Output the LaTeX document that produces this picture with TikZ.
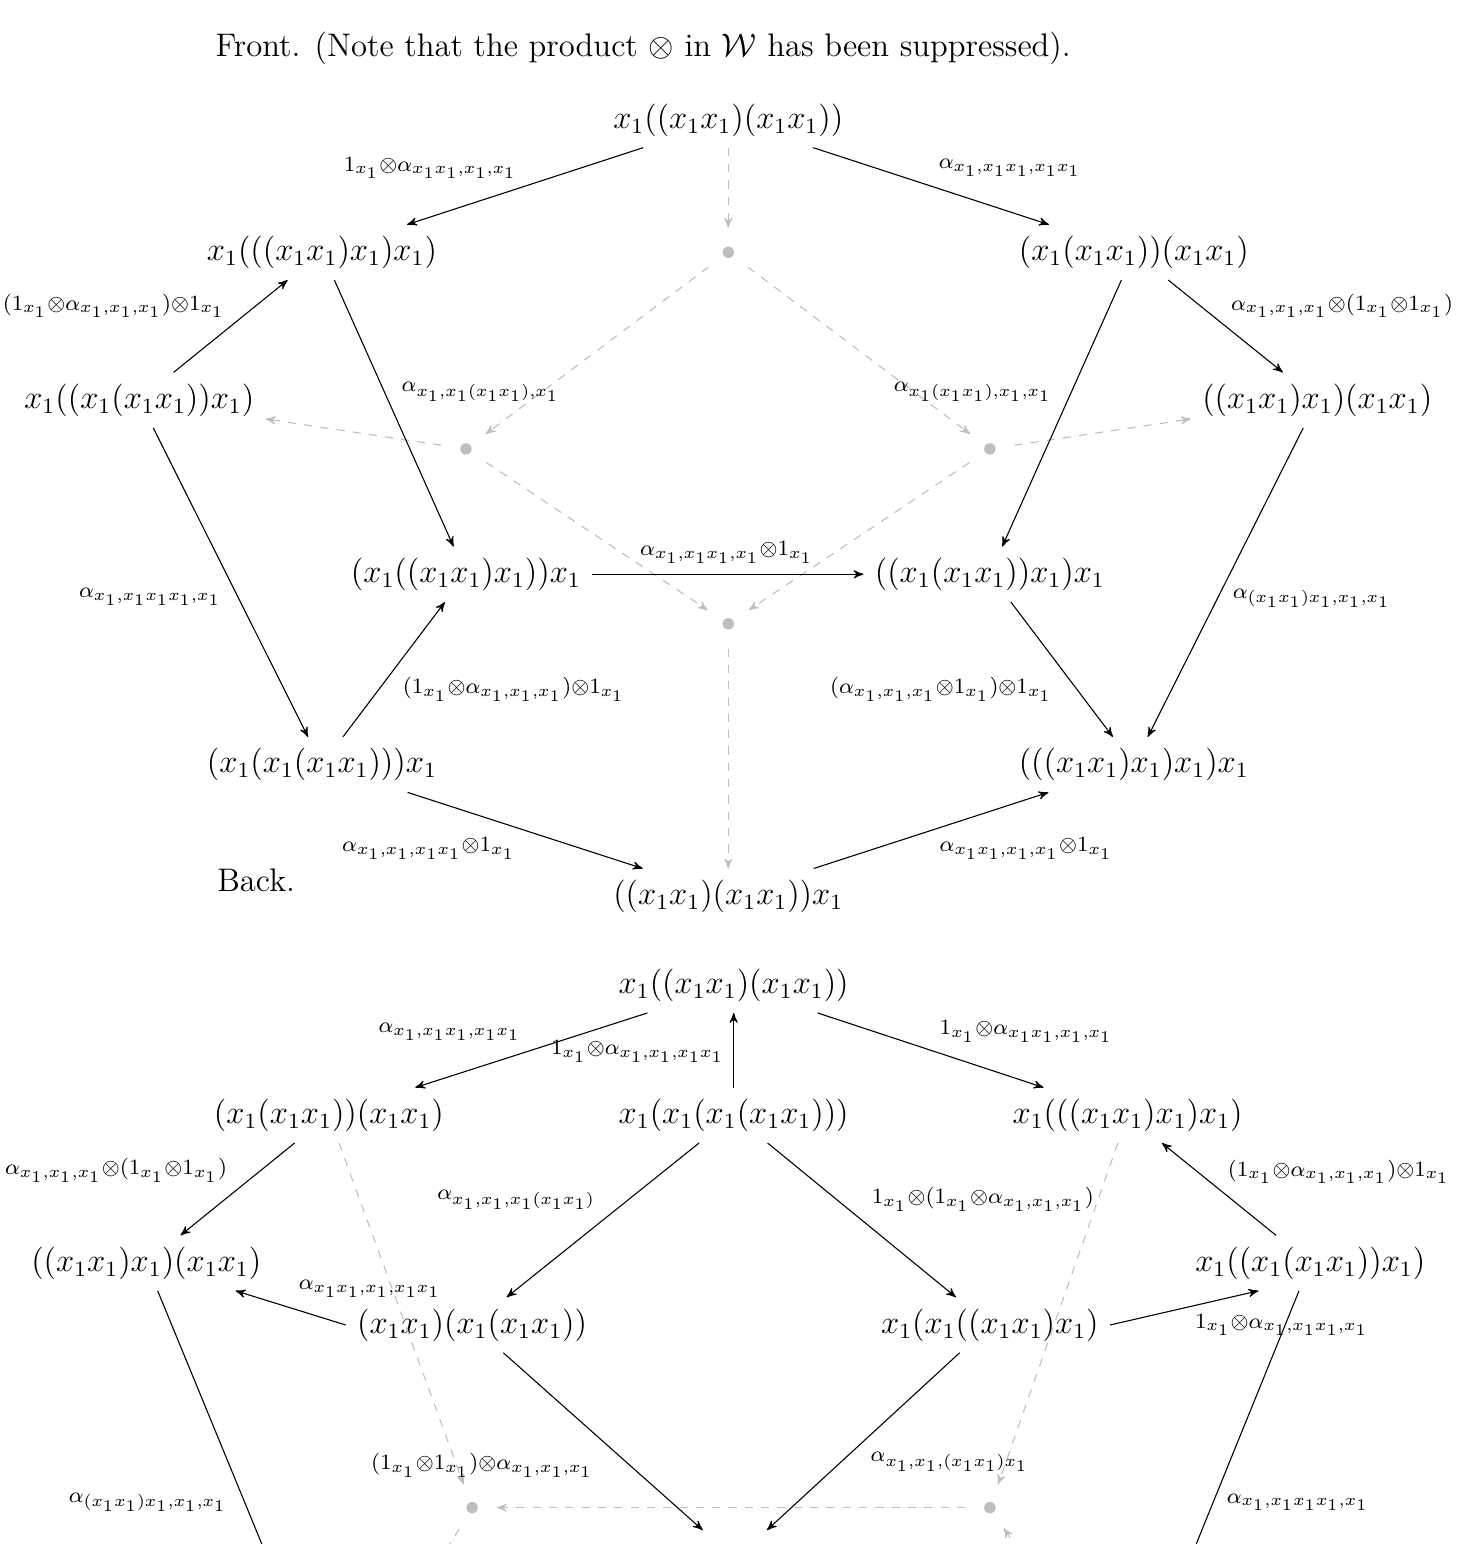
\documentclass[12pt,tikz,border=0pt]{standalone}
\usepackage{amsmath}
\usepackage{amssymb}
\usetikzlibrary{arrows, positioning, calc}
\definecolor{ghostgray}{RGB}{190, 190, 190}
\newcommand{\arlbl}[1]{$\scriptstyle #1$}

\begin{document}
\begin{tikzpicture}[
    lbl/.style={inner sep=1pt},
    arrow/.style={->, >=stealth'},
    ghost/.style={->, >=stealth', dashed, ghostgray},
    hdot/.style={circle, fill=ghostgray, inner sep=0pt, minimum size=4.2pt, outer sep=7pt}
]
    \useasboundingbox (0,0) rectangle (18.82,-19.95);
    \clip (0,0) rectangle (18.82,-19.95);

    % Front
    \node[anchor=west] (fronttitle) at (2.64,-0.62) {Front. (Note that the product $\otimes$ in $\mathcal{W}$ has been suppressed).};

    \node (f1) at (9.41,-1.55) {$x_1((x_1x_1)(x_1x_1))$};
    \node (f2) at (4.16,-3.26) {$x_1(((x_1x_1)x_1)x_1)$};
    \node (f3) at (14.65,-3.26) {$(x_1(x_1x_1))(x_1x_1)$};
    \node (f4) at (1.80,-5.17) {$x_1((x_1(x_1x_1))x_1)$};
    \node (f5) at (17.02,-5.17) {$((x_1x_1)x_1)(x_1x_1)$};
    \node (f6) at (6.02,-7.42) {$(x_1((x_1x_1)x_1))x_1$};
    \node (f7) at (12.79,-7.42) {$((x_1(x_1x_1))x_1)x_1$};
    \node (f8) at (4.16,-9.88) {$(x_1(x_1(x_1x_1)))x_1$};
    \node (f9) at (14.65,-9.88) {$(((x_1x_1)x_1)x_1)x_1$};
    \node (f10) at (9.41,-11.58) {$((x_1x_1)(x_1x_1))x_1$};

    \node[hdot] (d1) at (9.41,-3.26) {};
    \node[hdot] (d2) at (6.02,-5.80) {};
    \node[hdot] (d3) at (12.79,-5.80) {};
    \node[hdot] (d4) at (9.41,-8.06) {};

    \draw[ghost] (f1) -- (d1);
    \draw[ghost] (d1) -- (d2);
    \draw[ghost] (d1) -- (d3);
    \draw[ghost] (d2) -- (f4);
    \draw[ghost] (d3) -- (f5);
    \draw[ghost] (d2) -- (d4);
    \draw[ghost] (d3) -- (d4);
    \draw[ghost] (d4) -- (f10);

    \draw[arrow] (f1) -- (f2);
    \draw[arrow] (f1) -- (f3);
    \draw[arrow] (f4) -- (f2);
    \draw[arrow] (f3) -- (f5);
    \draw[arrow] (f2) -- (f6);
    \draw[arrow] (f3) -- (f7);
    \draw[arrow] (f4) -- (f8);
    \draw[arrow] (f5) -- (f9);
    \draw[arrow] (f6) -- (f7);
    \draw[arrow] (f8) -- (f6);
    \draw[arrow] (f7) -- (f9);
    \draw[arrow] (f8) -- (f10);
    \draw[arrow] (f10) -- (f9);

    % Front labels
    \node[lbl] (lf1) at (5.56,-2.17) {\arlbl{1_{x_1}\otimes\alpha_{x_1x_1,x_1,x_1}}};
    \node[lbl] (lf2) at (13.05,-2.17) {\arlbl{\alpha_{x_1,x_1x_1,x_1x_1}}};
    \node[lbl] (lf3) at (1.47,-3.95) {\arlbl{(1_{x_1}\otimes\alpha_{x_1,x_1,x_1})\otimes1_{x_1}}};
    \node[lbl] (lf4) at (17.34,-3.95) {\arlbl{\alpha_{x_1,x_1,x_1}\otimes(1_{x_1}\otimes1_{x_1})}};
    \node[lbl] (lf5) at (6.21,-5.06) {\arlbl{\alpha_{x_1,x_1(x_1x_1),x_1}}};
    \node[lbl] (lf6) at (12.57,-5.06) {\arlbl{\alpha_{x_1(x_1x_1),x_1,x_1}}};
    \node[lbl] (lf7) at (1.94,-7.71) {\arlbl{\alpha_{x_1,x_1x_1x_1,x_1}}};
    \node[lbl] (lf8) at (16.95,-7.73) {\arlbl{\alpha_{(x_1x_1)x_1,x_1,x_1}}};
    \node[lbl] (lf9) at (9.39,-7.14) {\arlbl{\alpha_{x_1,x_1x_1,x_1}\otimes1_{x_1}}};
    \node[lbl] (lf10) at (6.64,-8.91) {\arlbl{(1_{x_1}\otimes\alpha_{x_1,x_1,x_1})\otimes1_{x_1}}};
    \node[lbl] (lf11) at (12.16,-8.91) {\arlbl{(\alpha_{x_1,x_1,x_1}\otimes1_{x_1})\otimes1_{x_1}}};
    \node[lbl] (lf12) at (5.54,-10.96) {\arlbl{\alpha_{x_1,x_1,x_1x_1}\otimes1_{x_1}}};
    \node[lbl] (lf13) at (13.26,-10.96) {\arlbl{\alpha_{x_1x_1,x_1,x_1}\otimes1_{x_1}}};

    % Back
    \node[anchor=west] (backtitle) at (2.66,-11.37) {Back.};

    \node (b1) at (9.48,-12.73) {$x_1((x_1x_1)(x_1x_1))$};
    \node (b2) at (4.25,-14.41) {$(x_1(x_1x_1))(x_1x_1)$};
    \node (b3) at (9.48,-14.41) {$x_1(x_1(x_1(x_1x_1)))$};
    \node (b4) at (14.57,-14.41) {$x_1(((x_1x_1)x_1)x_1)$};
    \node (b5) at (1.89,-16.32) {$((x_1x_1)x_1)(x_1x_1)$};
    \node (b6) at (6.10,-17.12) {$(x_1x_1)(x_1(x_1x_1))$};
    \node (b7) at (12.79,-17.12) {$x_1(x_1((x_1x_1)x_1)$};
    \node (b8) at (16.93,-16.32) {$x_1((x_1(x_1x_1))x_1)$};

    \node[hdot] (e1) at (6.10,-19.48) {};
    \node[hdot] (e2) at (12.79,-19.48) {};

    % ends below the page
    \coordinate (b9w) at (9.08,-19.77);
    \coordinate (b9e) at (9.91,-19.77);
    \coordinate (b10) at (4.21,-21.96);
    \coordinate (b11) at (14.64,-21.96);
    \coordinate (e3) at (4.59,-21.96);
    \coordinate (e4) at (14.47,-21.96);

    \draw[ghost] (b2) -- (e1);
    \draw[ghost] (b4) -- (e2);
    \draw[ghost] (e2) -- (e1);
    \draw[ghost] (e1) -- (e3);
    \draw[ghost] (e4) -- (e2);

    \draw[arrow] (b1) -- (b2);
    \draw[arrow] (b3) -- (b1);
    \draw[arrow] (b1) -- (b4);
    \draw[arrow] (b2) -- (b5);
    \draw[arrow] (b8) -- (b4);
    \draw[arrow] (b3) -- (b6);
    \draw[arrow] (b3) -- (b7);
    \draw[arrow] (b6.west) -- (b5);
    \draw[arrow] (b7.east) -- ($(b8.south)!0.41!(b8.south west)$);
    \draw[arrow] (b6) -- (b9w);
    \draw[arrow] (b7) -- (b9e);
    \draw[arrow] (b5) -- (b10);
    \draw[arrow] (b8) -- (b11);

    % Back labels
    \node[lbl] (lb1) at (5.81,-13.33) {\arlbl{\alpha_{x_1,x_1x_1,x_1x_1}}};
    \node[lbl] (lb2) at (8.24,-13.59) {\arlbl{1_{x_1}\otimes\alpha_{x_1,x_1,x_1x_1}}};
    \node[lbl] (lb3) at (13.26,-13.33) {\arlbl{1_{x_1}\otimes\alpha_{x_1x_1,x_1,x_1}}};
    \node[lbl] (lb4) at (1.50,-15.12) {\arlbl{\alpha_{x_1,x_1,x_1}\otimes(1_{x_1}\otimes1_{x_1})}};
    \node[lbl] (lb5) at (17.30,-15.14) {\arlbl{(1_{x_1}\otimes\alpha_{x_1,x_1,x_1})\otimes1_{x_1}}};
    \node[lbl] (lb6) at (6.67,-15.50) {\arlbl{\alpha_{x_1,x_1,x_1(x_1x_1)}}};
    \node[lbl] (lb7) at (12.70,-15.50) {\arlbl{1_{x_1}\otimes(1_{x_1}\otimes\alpha_{x_1,x_1,x_1})}};
    \node[lbl] (lb8) at (4.78,-16.65) {\arlbl{\alpha_{x_1x_1,x_1,x_1x_1}}};
    \node[lbl] (lb9) at (16.56,-17.12) {\arlbl{1_{x_1}\otimes\alpha_{x_1,x_1x_1,x_1}}};
    \node[lbl] (lb10) at (1.91,-19.41) {\arlbl{\alpha_{(x_1x_1)x_1,x_1,x_1}}};
    \node[lbl] (lb11) at (16.77,-19.41) {\arlbl{\alpha_{x_1,x_1x_1x_1,x_1}}};
    \node[lbl] (lb12) at (6.23,-18.93) {\arlbl{(1_{x_1}\otimes1_{x_1})\otimes\alpha_{x_1,x_1,x_1}}};
    \node[lbl] (lb13) at (12.27,-18.89) {\arlbl{\alpha_{x_1,x_1,(x_1x_1)x_1}}};
\end{tikzpicture}
\end{document}
